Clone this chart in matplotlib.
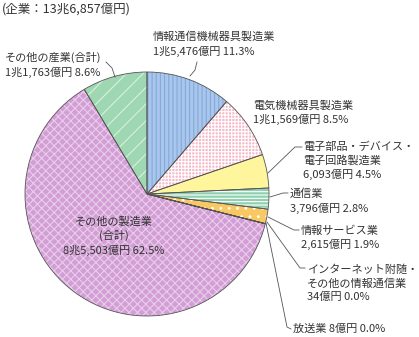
import numpy as np
import matplotlib.pyplot as plt
from matplotlib.patches import Wedge

plt.rcParams['font.family'] = ['Noto Sans CJK JP', 'DejaVu Sans']
plt.rcParams['hatch.linewidth'] = 0.8

# データ（億円）
categories = ['情報通信機械器具製造業', '電気機械器具製造業', '電子部品・デバイス・電子回路製造業',
              '通信業', '情報サービス業', 'インターネット附随・その他の情報通信業', '放送業',
              'その他の製造業（合計）', 'その他の産業（合計）']
values = [15476, 11569, 6093, 3796, 2615, 34, 8, 85503, 11763]
value_labels = ['1兆5,476億円', '1兆1,569億円', '6,093億円', '3,796億円', '2,615億円',
                '34億円', '8億円', '8兆5,503億円', '1兆1,763億円']
pct_labels = ['11.3%', '8.5%', '4.5%', '2.8%', '1.9%', '0.0%', '0.0%', '62.5%', '8.6%']
total_label = '(企業：13兆6,857億円)'

face = ['#a9c6ec', '#f7bccb', '#fff59c', '#8fd0b0', '#f9c862', '#f9c862', '#f9c862', '#d39ed6', '#9fd7b2']
hatches = ['||||', '+++++', None, '-----', '..', None, None, 'xxxx', '//']
hcol = ['#86a9da', 'white', None, 'white', 'white', None, None, '#e9cdeb', '#d8f0e0']

W, H = 419, 337
fig = plt.figure(figsize=(W / 100, H / 100), dpi=100)
ax = fig.add_axes([0, 0, 1, 1])

cx, cy, R = 147, H - 194, 122
wedges, _ = ax.pie(values, colors=face, startangle=90, counterclock=False,
                   center=(cx, cy), radius=R, frame=True,
                   wedgeprops=dict(linewidth=0))
ax.set_xlim(0, W)
ax.set_ylim(0, H)
ax.set_aspect('equal')
ax.axis('off')

for w, h, c in zip(wedges, hatches, hcol):
    if h:
        ax.add_patch(Wedge(w.center, w.r, w.theta1, w.theta2, fill=False,
                           hatch=h, edgecolor=c, linewidth=0))
for w in wedges:
    ax.add_patch(Wedge(w.center, w.r, w.theta1, w.theta2, fill=False,
                       edgecolor='#555555', linewidth=0.6))

tc = '#333333'
fs = 8
ls = 1.35

def label(x, y, s, ha='left', size=fs):
    ax.text(x, H - y, s, fontsize=size, color=tc, ha=ha, va='center', linespacing=ls)

def leader(pts):
    xs = [p[0] for p in pts]
    ys = [H - p[1] for p in pts]
    ax.plot(xs, ys, color='#555555', lw=0.6)

label(2, 9, total_label, size=9)

label(153, 44, '情報通信機械器具製造業\n' + value_labels[0] + ' ' + pct_labels[0])
leader([(197, 62), (195, 70), (190, 76)])

label(253, 113, '電気機械器具製造業\n' + value_labels[1] + ' ' + pct_labels[1])

label(303, 161, '電子部品・デバイス・\n電子回路製造業\n' + value_labels[2] + ' ' + pct_labels[2])
leader([(302, 147), (295, 147), (268, 173)])

label(290, 201, '通信業\n' + value_labels[3] + ' ' + pct_labels[3])
leader([(288, 193), (283, 193), (270, 197)])

label(301, 238, '情報サービス業\n' + value_labels[4] + ' ' + pct_labels[4])
leader([(299, 230), (294, 230), (268, 217)])

label(307, 283, 'インターネット附随・\nその他の情報通信業\n' + value_labels[5] + ' ' + pct_labels[5])
leader([(305, 268), (300, 268), (267, 222)])

label(293, 329, '放送業 ' + value_labels[6] + ' ' + pct_labels[6])
leader([(291, 329), (287, 327), (266, 223)])

label(114, 236, 'その他の製造業\n(合計)\n' + value_labels[7] + ' ' + pct_labels[7], ha='center')

label(5, 65, 'その他の産業(合計)\n' + value_labels[8] + ' ' + pct_labels[8])
leader([(106, 62), (112, 68), (115, 77)])

fig.savefig('out.png', dpi=100)
